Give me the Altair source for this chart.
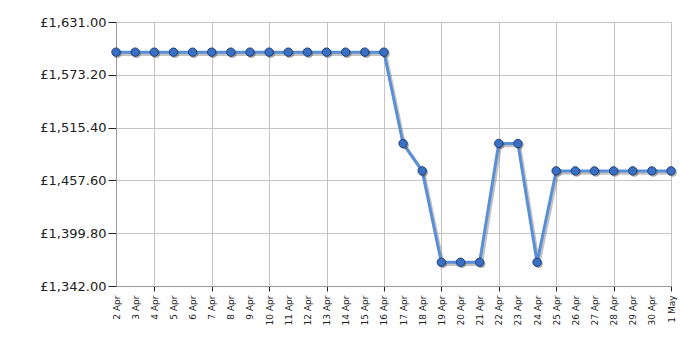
import altair as alt
import pandas as pd

days = ["2 Apr", "3 Apr", "4 Apr", "5 Apr", "6 Apr", "7 Apr", "8 Apr", "9 Apr", "10 Apr",
        "11 Apr", "12 Apr", "13 Apr", "14 Apr", "15 Apr", "16 Apr", "17 Apr", "18 Apr",
        "19 Apr", "20 Apr", "21 Apr", "22 Apr", "23 Apr", "24 Apr", "25 Apr", "26 Apr",
        "27 Apr", "28 Apr", "29 Apr", "30 Apr", "1 May"]
prices = [1598] * 15 + [1498, 1468, 1368, 1368, 1368, 1498, 1498, 1368] + [1468] * 7
y_ticks = [1342.0, 1399.8, 1457.6, 1515.4, 1573.2, 1631.0]
grid_days = ["4 Apr", "7 Apr", "10 Apr", "13 Apr", "16 Apr", "19 Apr", "22 Apr",
             "25 Apr", "28 Apr", "1 May"]

df = pd.DataFrame({"day": days, "price": prices})

grid_test = "indexof(" + str(grid_days).replace("'", "\"") + ", datum.value) >= 0"

x_enc = alt.X("day:O", sort=days, scale=alt.Scale(padding=0),
              axis=alt.Axis(title=None, labelAngle=-90, labelFont="DejaVu Sans",
                            labelFontSize=9, labelColor="#222", labelPadding=4,
                            domainColor="#999", tickColor="#222", tickSize=5,
                            grid=True, gridColor="#c4c4c4",
                            gridOpacity=alt.condition(grid_test, alt.value(1), alt.value(0)),
                            tickOpacity=alt.condition(grid_test, alt.value(1), alt.value(0))))
y_enc = alt.Y("price:Q", scale=alt.Scale(domain=[1342, 1631], nice=False, zero=False),
              axis=alt.Axis(title=None, values=y_ticks,
                            labelExpr="'£' + format(datum.value, ',.2f')",
                            labelFont="DejaVu Sans", labelFontSize=13, labelColor="#222",
                            domainColor="#999", tickColor="#222", tickSize=8,
                            gridColor="#c4c4c4", labelPadding=2))

base = alt.Chart(df).encode(x=x_enc, y=y_enc)

shadow = base.mark_line(color="#777", opacity=0.45, strokeWidth=3.5, xOffset=1.5, yOffset=2)
line = base.mark_line(color="#5a8fd8", strokeWidth=3)
pt_shadow = base.mark_circle(color="#555", opacity=0.5, size=75, xOffset=1.5, yOffset=1.5)
pts = base.mark_point(filled=True, color="#3a70c4", stroke="#1e3f7a", strokeWidth=1,
                      size=70, opacity=1)

chart = alt.layer(shadow, line, pt_shadow, pts).properties(
    width=555, height=264,
    autosize=alt.AutoSizeParams(type="none"),
    padding={"left": 116, "top": 22, "right": 29, "bottom": 64},
).configure_view(stroke=None)

chart.save("out.html", embed_options={"renderer": "svg", "actions": False})
